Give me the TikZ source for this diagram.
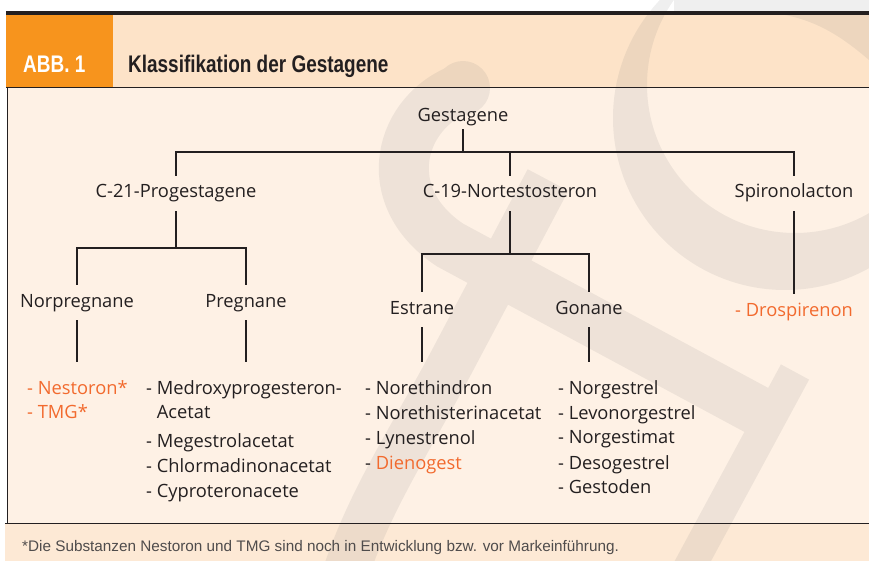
\documentclass[tikz,border=0pt]{standalone}
\usepackage{fontspec}
\setmainfont{Open Sans}
\newfontfamily\condfont[FakeStretch=0.79]{Liberation Sans}
\newfontfamily\footfont{Liberation Sans}
\usetikzlibrary{positioning}

\definecolor{abborange}{HTML}{F7941D}
\definecolor{headbg}{HTML}{FDE3C8}
\definecolor{bodybg}{HTML}{FEF1E5}
\definecolor{footbg}{HTML}{FDE9D5}
\definecolor{txtdark}{HTML}{231F20}
\definecolor{txtorange}{HTML}{F26A2E}
\definecolor{wmgray}{HTML}{7D7D7D}

\tikzset{
  lbl/.style={font=\fontsize{18.3}{23}\selectfont, text=txtdark, text height=13pt,
    text depth=4pt, inner xsep=0pt, inner ysep=9pt, anchor=base},
  item/.style={font=\fontsize{18.3}{23}\selectfont, text=txtdark, inner sep=0pt,
    anchor=base west},
  conn/.style={draw=txtdark, line width=1.5pt},
  wmstroke/.style={draw=wmgray},
}

\begin{document}
\begin{tikzpicture}[x=1pt,y=-1pt]
\useasboundingbox (0,0) rectangle (869,561);

% backgrounds
\fill[white] (0,0) rectangle (869,561);
\fill[headbg] (6,15) rectangle (869,88);
\fill[abborange] (6,15) rectangle (113,88);
\fill[bodybg] (7,88) rectangle (869,523);
\fill[footbg] (5,523) rectangle (869,561);

% watermark
\begin{scope}[transparency group, opacity=0.12]
  \clip (0,0) rectangle (869,561);
  \fill[wmgray, even odd rule] (785,118) circle (172) (795,85) circle (148);
  \fill[wmgray] (674,0) -- (869,0) -- (869,60) .. controls (840,35) and (815,20) .. (780,14) -- (674,14) -- cycle;
  \fill[wmgray] (463,88) circle (27);
  \draw[wmstroke, line width=50pt] (463,88) .. controls (400,110) and (375,195) .. (450,245) -- (775,420);
  \draw[wmstroke, line width=32pt] (795,372) -- (688,570);
  \draw[wmstroke, line width=46pt] (548,180) -- (450,365) .. controls (410,440) and (370,500) .. (345,575);
\end{scope}

% frame
\fill[txtdark] (6,11) rectangle (869,15);
\draw[txtdark, line width=1pt] (6,88) -- (869,88);
\draw[txtdark, line width=1pt] (7,88) -- (7,523);
\draw[txtdark, line width=1pt] (5,523) -- (869,523);

% title
\node[anchor=base west, inner sep=0pt, text=white, font=\condfont\bfseries\fontsize{24}{28}\selectfont] (abb) at (23,73) {ABB. 1};
\node[anchor=base west, inner sep=0pt, text=txtdark, font=\condfont\bfseries\fontsize{24}{28}\selectfont] (title) at (128,73) {Klassifikation der Gestagene};

% tree
\node[lbl, inner ysep=3pt] (gest) at (463,122) {Gestagene};
\node[lbl] (c21) at (176,198) {C-21-Progestagene};
\node[lbl] (c19) at (510,198) {C-19-Nortestosteron};
\node[lbl] (spiro) at (794,198) {Spironolacton};
\node[lbl] (norp) at (77,307) {Norpregnane};
\node[lbl] (preg) at (246,307) {Pregnane};
\node[lbl] (estr) at (422,314) {Estrane};
\node[lbl] (gon) at (589,314) {Gonane};
\node[lbl, text=txtorange] (drosp) at (794,316) {- Drospirenon};

\coordinate (j1) at (463,152);
\coordinate (j2) at (176,248);
\coordinate (j3) at (510,254);
\coordinate (npend) at (77,362);
\coordinate (prend) at (246,362);
\coordinate (esend) at (422,362);
\coordinate (goend) at (589,362);

\draw[conn] (gest) -- (j1);
\draw[conn] (c21) |- (j1) -| (spiro);
\draw[conn] (c19) -- (c19 |- j1);
\draw[conn] (c21) -- (j2);
\draw[conn] (norp) |- (j2) -| (preg);
\draw[conn] (c19) -- (j3);
\draw[conn] (estr) |- (j3) -| (gon);
\draw[conn] (spiro) -- (drosp);
\draw[conn] (norp) -- (npend);
\draw[conn] (preg) -- (prend);
\draw[conn] (estr) -- (esend);
\draw[conn] (gon) -- (goend);

% lists
\node[item, text=txtorange] (nest) at (27,394) {- Nestoron*};
\node[item, text=txtorange] (tmg) at (27,418) {- TMG*};

\node[item] (medr) at (146,394) {- Medroxyprogesteron-};
\node[item] (acet) at (146,418) {\hphantom{- }Acetat};
\node[item] (mege) at (146,447) {- Megestrolacetat};
\node[item] (chlo) at (146,472) {- Chlormadinonacetat};
\node[item] (cypr) at (146,497) {- Cyproteronacete};

\node[item] (noreth) at (365,394) {- Norethindron};
\node[item] (norac) at (365,419) {- Norethisterinacetat};
\node[item] (lyne) at (365,444) {- Lynestrenol};
\node[item] (dien) at (365,469) {- \textcolor{txtorange}{Dienogest}};

\node[item] (norg) at (558,394) {- Norgestrel};
\node[item] (levo) at (558,419) {- Levonorgestrel};
\node[item] (ngim) at (558,443) {- Norgestimat};
\node[item] (deso) at (558,469) {- Desogestrel};
\node[item] (gest2) at (558,493) {- Gestoden};

% footnote
\node[anchor=base west, inner sep=0pt, text=txtdark!80, font=\footfont\fontsize{15.3}{18}\selectfont] (fn) at (22,551) {*Die Substanzen Nestoron und TMG sind noch in Entwicklung bzw. vor Markeinführung.};
\end{tikzpicture}
\end{document}
